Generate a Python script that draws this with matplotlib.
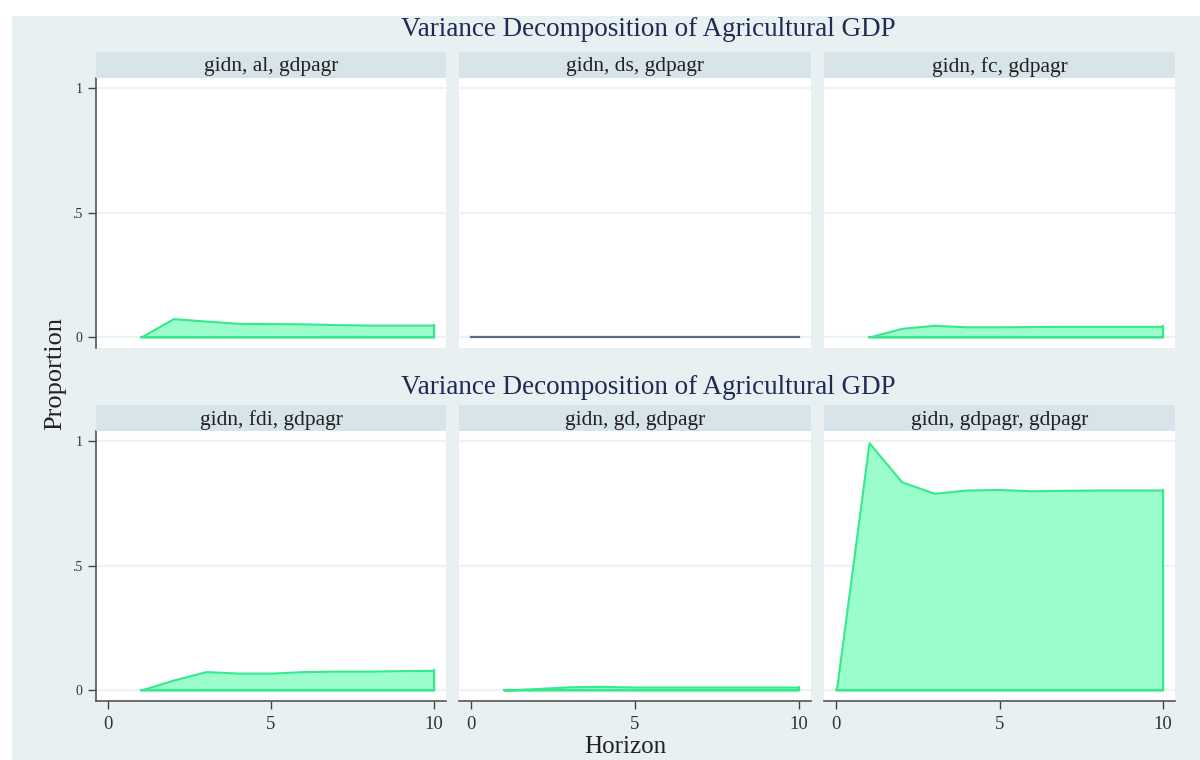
import matplotlib
matplotlib.use('Agg')
import matplotlib.pyplot as plt
from matplotlib.patches import Rectangle

# forecast error variance decomposition, response gdpagr, impulse in panel title
titles = ['gidn, al, gdpagr', 'gidn, ds, gdpagr', 'gidn, fc, gdpagr',
          'gidn, fdi, gdpagr', 'gidn, gd, gdpagr', 'gidn, gdpagr, gdpagr']
steps_imp = [1, 2, 3, 4, 5, 6, 7, 8, 9, 10]
steps_all = [0, 1, 2, 3, 4, 5, 6, 7, 8, 9, 10]
al = [0, 0.074, 0.064, 0.055, 0.054, 0.053, 0.050, 0.048, 0.048, 0.048]
ds = [0, 0, 0, 0, 0, 0, 0, 0, 0, 0, 0]
fc = [0, 0.035, 0.047, 0.041, 0.041, 0.042, 0.043, 0.043, 0.043, 0.043]
fdi = [0, 0.040, 0.074, 0.068, 0.068, 0.074, 0.076, 0.076, 0.078, 0.079]
gd = [0, 0.006, 0.013, 0.015, 0.012, 0.012, 0.012, 0.012, 0.012, 0.012]
gdpagr = [0, 0.993, 0.836, 0.790, 0.803, 0.805, 0.800, 0.802, 0.803, 0.803, 0.803]

panels = [(steps_imp, al), (steps_all, ds), (steps_imp, fc),
          (steps_imp, fdi), (steps_imp, gd), (steps_all, gdpagr)]

main_title = 'Variance Decomposition of Agricultural GDP'
bg = '#e8f0f2'
strip_c = '#d7e4e9'
fill_c = '#9cfdcc'
edge_c = '#36e98c'
text_c = '#1e2b52'
font = 'Liberation Serif'

W, H = 1200, 760
fig = plt.figure(figsize=(12, 7.6), dpi=100)
fig.patch.set_facecolor('white')
fig.patches.append(Rectangle((12 / W, 0), 1, 1 - 16 / H, transform=fig.transFigure,
                             facecolor=bg, edgecolor='none', zorder=-10))

cols = [(96, 446), (459, 811), (824, 1175)]
rows = [(52, 78, 348), (405, 431, 701)]

for i, (xs, ys) in enumerate(panels):
    r, c = divmod(i, 3)
    st, top, bot = rows[r]
    x0, x1 = cols[c]
    ax = fig.add_axes([x0 / W, 1 - bot / H, (x1 - x0) / W, (bot - top) / H])
    ax.set_facecolor('white')
    # strip
    fig.patches.append(Rectangle((x0 / W, 1 - top / H), (x1 - x0) / W, (top - st) / H,
                                 transform=fig.transFigure, facecolor=strip_c,
                                 edgecolor='none'))
    fig.text((x0 + x1) / 2 / W, 1 - ((st + top) / 2 + 2) / H, titles[i], ha='center',
             va='center', fontsize=15.5, family=font, color='#222222')
    if titles[i] == 'gidn, ds, gdpagr':
        ax.plot(xs, ys, color='#5a6d8b', lw=1.6, zorder=3)
    else:
        ax.fill_between(xs, 0, ys, facecolor=fill_c, edgecolor=edge_c, lw=1.5, zorder=3)
        ax.plot([xs[-1], xs[-1]], [0, ys[-1]], color=edge_c, lw=1.5, zorder=3)
        ax.plot([xs[0], xs[-1]], [0, 0], color=edge_c, lw=1.5, zorder=3)
    ax.set_xlim(-0.38, 10.38)
    ax.set_ylim(-0.044, 1.04)
    ax.set_yticks([0, 0.5, 1])
    ax.set_xticks([0, 5, 10])
    ax.grid(axis='y', color='#edf3f4', lw=1.6, zorder=0)
    ax.set_axisbelow(True)
    for s in ax.spines.values():
        s.set_visible(False)
    ax.tick_params(colors='#444444', length=6, width=1.0, labelsize=10)
    if c == 0:
        ax.spines['left'].set_visible(True)
        ax.spines['left'].set_color('#555555')
        ax.spines['left'].set_linewidth(1.2)
        ax.set_yticklabels(['0', '.5', '1'], family=font, color='#333333')
    else:
        ax.tick_params(axis='y', left=False, labelleft=False)
    if r == 1:
        ax.spines['bottom'].set_visible(True)
        ax.spines['bottom'].set_color('#555555')
        ax.spines['bottom'].set_linewidth(1.2)
        ax.tick_params(axis='x', labelsize=13.5, pad=5)
        ax.set_xticklabels(['0', '5', '10'], family=font, color='#333333')
    else:
        ax.tick_params(axis='x', bottom=False, labelbottom=False)

fig.text(648 / W, 1 - 30 / H, main_title, ha='center', va='center', fontsize=19.5,
         family=font, color=text_c)
fig.text(648 / W, 1 - 387 / H, main_title, ha='center', va='center', fontsize=19.5,
         family=font, color=text_c)
fig.text(55 / W, 1 - 374 / H, 'Proportion', rotation=90, ha='center', va='center',
         fontsize=19, family=font, color='#222222')
fig.text(625 / W, 1 - 747 / H, 'Horizon', ha='center', va='center', fontsize=18,
         family=font, color='#222222')

fig.savefig('out.png', dpi=100, facecolor=fig.get_facecolor())
